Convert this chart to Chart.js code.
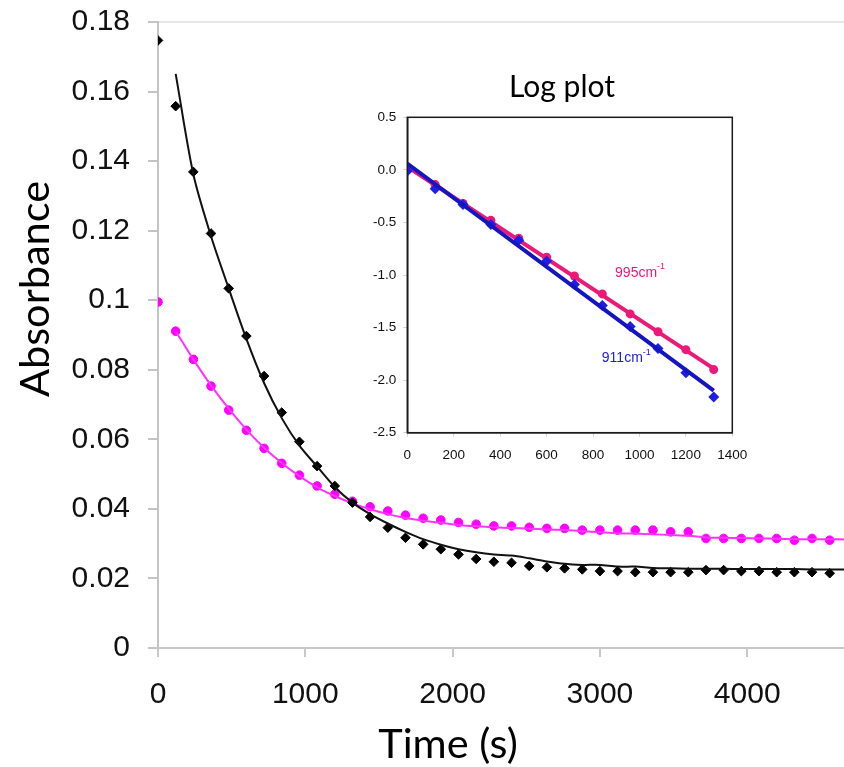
<!DOCTYPE html>
<html>
<head>
<meta charset="utf-8">
<title>Absorbance decay</title>
<script src="https://cdn.jsdelivr.net/npm/chart.js@4.4.1/dist/chart.umd.min.js"></script>
<style>
  html, body { margin: 0; padding: 0; background: #fff; }
  #wrap { position: relative; width: 844px; height: 767px; overflow: hidden; }
  #main { position: absolute; left: 0; top: 0; }
  #inset { position: absolute; left: 340px; top: 55px; }
</style>
</head>
<body>
<div id="wrap">
  <canvas id="main" width="844" height="767"></canvas>
  <canvas id="inset" width="444" height="425"></canvas>
</div>
<script>
// ---- main plot data ----
const sampleTimes = [0, 120, 240, 360, 480, 600, 720, 840, 960, 1080, 1200, 1320, 1440, 1560, 1680, 1800,
  1920, 2040, 2160, 2280, 2400, 2520, 2640, 2760, 2880, 3000, 3120, 3240, 3360, 3480, 3600, 3720,
  3840, 3960, 4080, 4200, 4320, 4440, 4560];
const blackAbs = [0.1747, 0.1558, 0.1369, 0.1192, 0.1034, 0.0897, 0.0782, 0.0677, 0.0593, 0.0523,
  0.0466, 0.0418, 0.0377, 0.0346, 0.0317, 0.0298, 0.0284, 0.0269, 0.0256, 0.0248,
  0.0245, 0.0236, 0.0232, 0.0229, 0.0226, 0.0221, 0.0221, 0.0218, 0.0218, 0.0218,
  0.0218, 0.0224, 0.0224, 0.0221, 0.0221, 0.0218, 0.0218, 0.0218, 0.0215];
const magentaAbs = [0.0995, 0.0911, 0.0830, 0.0753, 0.0684, 0.0626, 0.0574, 0.0531, 0.0497, 0.0466,
  0.0442, 0.0422, 0.0406, 0.0394, 0.0382, 0.0373, 0.0368, 0.0361, 0.0356, 0.0351,
  0.0351, 0.0347, 0.0344, 0.0344, 0.0339, 0.0339, 0.0339, 0.0339, 0.0339, 0.0334,
  0.0334, 0.0315, 0.0315, 0.0315, 0.0315, 0.0315, 0.0310, 0.0315, 0.0310];

// fitted curves (start at the second sample)
const fitTimes = [120, 240, 360, 480, 600, 720, 840, 960, 1080, 1200, 1320, 1440, 1560, 1680, 1800,
  1920, 2040, 2160, 2280, 2400, 2520, 2640, 2760, 2880, 3000, 3120, 3240, 3360, 3480, 3600, 3720,
  3840, 3960, 4080, 4200, 4320, 4440, 4560, 4680];
const blackFit = [0.1651, 0.1362, 0.1184, 0.1034, 0.0889, 0.0762, 0.0661, 0.0582, 0.0522, 0.0463,
  0.0418, 0.0385, 0.0358, 0.0334, 0.0313, 0.0297, 0.0284, 0.0275, 0.0269, 0.0266,
  0.0258, 0.0249, 0.0242, 0.0239, 0.0239, 0.0234, 0.0234, 0.0230, 0.0229, 0.0228,
  0.0228, 0.0228, 0.0227, 0.0227, 0.0227, 0.0227, 0.0226, 0.0226, 0.0226];
const magentaFit = [0.0911, 0.0830, 0.0755, 0.0688, 0.0628, 0.0576, 0.0532, 0.0494, 0.0462, 0.0437,
  0.0416, 0.0399, 0.0385, 0.0374, 0.0366, 0.0360, 0.0354, 0.0350, 0.0347, 0.0345,
  0.0343, 0.0341, 0.0339, 0.0336, 0.0333, 0.0330, 0.0329, 0.0327, 0.0325, 0.0323,
  0.0318, 0.0317, 0.0316, 0.0315, 0.0314, 0.0313, 0.0313, 0.0313, 0.0312];

const xTicks = [0, 1000, 2000, 3000, 4000];
const xTickLabels = ['0', '1000', '2000', '3000', '4000'];
const yTicks = [0, 0.02, 0.04, 0.06, 0.08, 0.1, 0.12, 0.14, 0.16, 0.18];
const yTickLabels = ['0', '0.02', '0.04', '0.06', '0.08', '0.1', '0.12', '0.14', '0.16', '0.18'];

// ---- inset (log plot) data ----
const logTimes = [0, 120, 240, 360, 480, 600, 720, 840, 960, 1080, 1200, 1320];
const log995 = [0.00, -0.14, -0.32, -0.48, -0.65, -0.83, -1.01, -1.18, -1.37, -1.54, -1.71, -1.90];
const log911 = [-0.01, -0.18, -0.33, -0.52, -0.67, -0.87, -1.09, -1.29, -1.49, -1.70, -1.93, -2.16];
const logFitTimes = [0, 1320];
const log995Fit = [0.03, -1.89];
const log911Fit = [0.06, -2.10];

const logXTicks = [0, 200, 400, 600, 800, 1000, 1200, 1400];
const logXTickLabels = ['0', '200', '400', '600', '800', '1000', '1200', '1400'];
const logYTicks = [-2.5, -2.0, -1.5, -1.0, -0.5, 0.0, 0.5];
const logYTickLabels = ['-2.5', '-2.0', '-1.5', '-1.0', '-0.5', '0.0', '0.5'];

const pts = (xs, ys) => xs.map((x, i) => ({ x: x, y: ys[i] }));

const TICK_FONT = { family: "'Liberation Sans', Arial, sans-serif", size: 30 };
const AXIS_TITLE_FONT = "41.5px Lato, 'Open Sans', sans-serif";

// axis titles sit off-centre in the original, so draw them by hand
const axisTitles = {
    id: 'axisTitles',
    afterDraw(chart) {
        const { ctx } = chart;
        ctx.save();
        ctx.fillStyle = '#000';
        ctx.font = AXIS_TITLE_FONT;
        ctx.textAlign = 'center';
        ctx.textBaseline = 'middle';
        ctx.fillText('Time (s)', 448, 745);
        ctx.translate(36, 289);
        ctx.rotate(-Math.PI / 2);
        ctx.fillText('Absorbance', 0, 0);
        ctx.restore();
    }
};

// keep label padding from pushing the plot area inwards
const noEdgePadding = s => {
    s.paddingTop = 0;
    s.paddingBottom = 0;
    s.paddingLeft = 0;
    s.paddingRight = 0;
};

new Chart(document.getElementById('main'), {
    type: 'scatter',
    data: {
        datasets: [
            { data: pts(fitTimes, blackFit), showLine: true, borderColor: '#111', borderWidth: 2,
              pointRadius: 0, tension: 0.3 },
            { data: pts(sampleTimes, blackAbs), pointStyle: 'rectRot', pointRadius: 4.8,
              backgroundColor: '#000', borderColor: '#000', borderWidth: 1 },
            { data: pts(fitTimes, magentaFit), showLine: true, borderColor: '#ff33ff', borderWidth: 2,
              pointRadius: 0, tension: 0.3 },
            { data: pts(sampleTimes, magentaAbs), pointStyle: 'circle', pointRadius: 4.3,
              backgroundColor: '#ff00ff', borderColor: '#ff00ff', borderWidth: 1 }
        ]
    },
    options: {
        responsive: false,
        animation: false,
        layout: { autoPadding: false, padding: { left: 0, right: 0, top: 22, bottom: 0 } },
        plugins: { legend: { display: false }, tooltip: { enabled: false } },
        scales: {
            x: {
                type: 'linear',
                min: 0,
                max: 4657,
                afterBuildTicks: s => { s.ticks = xTicks.map(v => ({ value: v })); },
                afterFit: s => { s.height = 119; noEdgePadding(s); },
                grid: { drawOnChartArea: false, color: '#c8c8c8', lineWidth: 2, tickLength: 9 },
                border: { color: '#c8c8c8', width: 2 },
                ticks: { font: TICK_FONT, color: '#111', padding: 20, maxRotation: 0,
                         callback: (v, i) => xTickLabels[i] }
            },
            y: {
                min: 0,
                max: 0.18,
                afterBuildTicks: s => { s.ticks = yTicks.map(v => ({ value: v })); },
                afterFit: s => { s.width = 158; noEdgePadding(s); },
                grid: {
                    color: c => c.index === yTicks.length - 1 ? '#e6e6e6' : 'rgba(0,0,0,0)',
                    tickColor: '#c4c4c4', lineWidth: 2, tickLength: 10
                },
                border: { color: '#c4c4c4', width: 2 },
                ticks: { font: TICK_FONT, color: '#111', padding: 18,
                         callback: (v, i) => yTickLabels[i] }
            }
        }
    },
    plugins: [axisTitles]
});

// frame round the inset plot area
const framePlugin = {
    id: 'frame',
    afterDraw(chart) {
        const { ctx, chartArea: a } = chart;
        ctx.save();
        ctx.strokeStyle = '#1a1a1a';
        ctx.lineWidth = 1.5;
        ctx.strokeRect(a.left, a.top, a.right - a.left, a.bottom - a.top);
        ctx.restore();
    }
};

// wavenumber labels next to the lines
const seriesLabels = {
    id: 'seriesLabels',
    afterDatasetsDraw(chart) {
        const { ctx, scales: { x, y } } = chart;
        const put = (t, v, main, color) => {
            const px = x.getPixelForValue(t);
            const py = y.getPixelForValue(v);
            ctx.save();
            ctx.fillStyle = color;
            ctx.textBaseline = 'middle';
            ctx.font = "14px 'Liberation Sans', Arial, sans-serif";
            ctx.fillText(main, px, py);
            const w = ctx.measureText(main).width;
            ctx.font = "9px 'Liberation Sans', Arial, sans-serif";
            ctx.fillText('-1', px + w, py - 6);
            ctx.restore();
        };
        put(895, -0.98, '995cm', '#eb1978');
        put(838, -1.79, '911cm', '#2020d0');
    }
};

const INSET_TICK_FONT = { family: "'Liberation Sans', Arial, sans-serif", size: 13.5 };

new Chart(document.getElementById('inset'), {
    type: 'scatter',
    data: {
        datasets: [
            { data: pts(logFitTimes, log911Fit), showLine: true, borderColor: '#1414c0', borderWidth: 4,
              pointRadius: 0 },
            { data: pts(logTimes, log911), pointStyle: 'rectRot', pointRadius: 5.5,
              backgroundColor: '#1e1ee6', borderColor: '#1e1ee6', borderWidth: 0 },
            { data: pts(logFitTimes, log995Fit), showLine: true, borderColor: '#eb1978', borderWidth: 4,
              pointRadius: 0 },
            { data: pts(logTimes, log995), pointStyle: 'circle', pointRadius: 4.5,
              backgroundColor: '#eb1978', borderColor: '#eb1978', borderWidth: 0 }
        ]
    },
    options: {
        responsive: false,
        animation: false,
        layout: { autoPadding: false, padding: { left: 0, right: 0, top: 0, bottom: 0 } },
        plugins: {
            legend: { display: false },
            tooltip: { enabled: false },
            title: {
                display: true,
                text: 'Log plot',
                color: '#000',
                font: { family: "Lato, 'Open Sans', sans-serif", size: 30, weight: 'normal', lineHeight: 1 },
                padding: { top: 17, bottom: 15.3 }
            }
        },
        scales: {
            x: {
                type: 'linear',
                min: 0,
                max: 1400,
                afterBuildTicks: s => { s.ticks = logXTicks.map(v => ({ value: v })); },
                afterFit: s => { s.height = 47.3; },
                grid: { drawOnChartArea: false, color: '#d4d4d4', lineWidth: 1, tickLength: 4 },
                border: { color: '#1a1a1a', width: 1.5 },
                ticks: { font: INSET_TICK_FONT, color: '#111', padding: 10, maxRotation: 0,
                         callback: (v, i) => logXTickLabels[i] }
            },
            y: {
                min: -2.5,
                max: 0.5,
                afterBuildTicks: s => { s.ticks = logYTicks.map(v => ({ value: v })); },
                afterFit: s => { s.width = 67.3; },
                grid: { drawOnChartArea: false, color: '#d4d4d4', lineWidth: 1, tickLength: 4 },
                border: { color: '#1a1a1a', width: 1.5 },
                ticks: { font: INSET_TICK_FONT, color: '#111', padding: 7,
                         callback: (v, i) => logYTickLabels[i] }
            },
            yRight: {
                position: 'right',
                min: -2.5,
                max: 0.5,
                afterFit: s => { s.width = 51.7; },
                grid: { display: false },
                border: { display: false },
                ticks: { display: false }
            }
        }
    },
    plugins: [framePlugin, seriesLabels]
});
</script>
</body>
</html>
